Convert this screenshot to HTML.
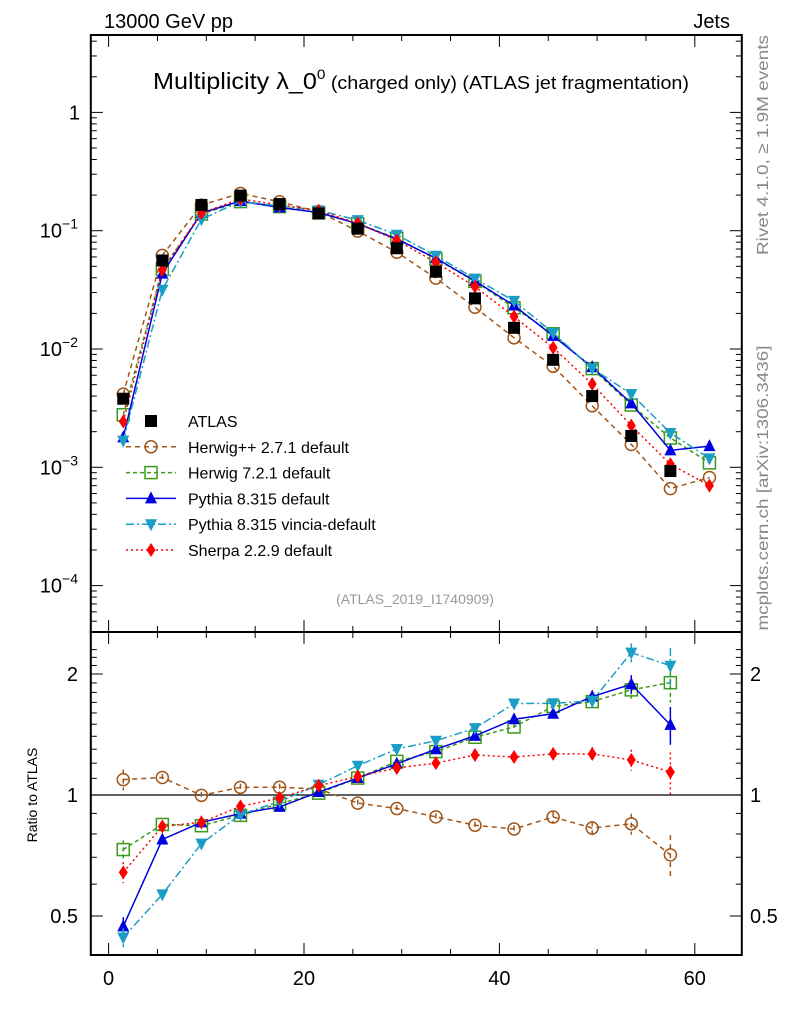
<!DOCTYPE html>
<html><head><meta charset="utf-8"><style>
body{margin:0;background:#fff;}
svg text{font-family:"Liberation Sans",sans-serif;}
</style></head><body>
<svg id="chart" width="786" height="1024" viewBox="0 0 786 1024" xmlns="http://www.w3.org/2000/svg">
<text x="104" y="28" font-size="20">13000 GeV pp</text>
<text x="730" y="28" font-size="20" text-anchor="end">Jets</text>
<text x="421" y="89" font-size="23" text-anchor="middle" textLength="536" lengthAdjust="spacingAndGlyphs">Multiplicity λ_0<tspan font-size="14" dy="-10">0</tspan><tspan font-size="18" dy="10"> (charged only)  (ATLAS jet fragmentation)</tspan></text>
<text transform="translate(768,145) rotate(-90)" font-size="16" fill="#888" text-anchor="middle" textLength="220" lengthAdjust="spacingAndGlyphs">Rivet 4.1.0, ≥ 1.9M events</text>
<text transform="translate(768,488) rotate(-90)" font-size="16" fill="#888" text-anchor="middle" textLength="285" lengthAdjust="spacingAndGlyphs">mcplots.cern.ch [arXiv:1306.3436]</text>
<text x="415" y="604" font-size="14" fill="#999" text-anchor="middle">(ATLAS_2019_I1740909)</text>
<text transform="translate(37,795) rotate(-90)" font-size="14" text-anchor="middle">Ratio to ATLAS</text>
<g id="g"></g>
</svg>
<script>
const xs=[1.5,5.5,9.5,13.5,17.5,21.5,25.5,29.5,33.5,37.5,41.5,45.5,49.5,53.5,57.5,61.5];
const atlas=[0.0038,0.056,0.165,0.198,0.168,0.140,0.104,0.071,0.045,0.0268,0.0151,0.0081,0.0040,0.00184,0.00093];
const herwigpp=[0.00415,0.0619,0.1647,0.2069,0.1756,0.1449,0.0993,0.0657,0.0397,0.02254,0.01243,0.00714,0.00331,0.00156,0.00066,0.00082];
const herwig7=[0.00278,0.0473,0.1384,0.1762,0.1599,0.1415,0.1146,0.0861,0.0577,0.0373,0.0223,0.01345,0.00683,0.00336,0.00177,0.00109];
const pythia=[0.00179,0.0434,0.1411,0.178,0.1569,0.1424,0.1146,0.0849,0.0585,0.0376,0.0233,0.0129,0.00703,0.00347,0.00139,0.00151];
const vincia=[0.00168,0.0317,0.1249,0.177,0.162,0.1485,0.123,0.0924,0.0614,0.0393,0.0255,0.0137,0.00686,0.00416,0.00195,0.00119];
const sherpa=[0.00244,0.0468,0.1411,0.1855,0.1651,0.1477,0.1156,0.0829,0.054,0.0337,0.01877,0.01025,0.00506,0.00225,0.00106,0.00070];
const relErr=[0.06,0.02,0.02,0.02,0.02,0.02,0.02,0.02,0.02,0.02,0.02,0.03,0.04,0.06,0.12,0.1];
const xTicks=[0,20,40,60];
const ratioTicks=[0.5,1,2];

const NS="http://www.w3.org/2000/svg";
const g=document.getElementById('g');
const L=90.8,R=741.8,T1=35,B1=632,T2=632,B2=955;
const X=v=>108.6+(v)*9.77;
const Y=v=>112.4-Math.log10(v)*118.3;
const YR=r=>795-Math.log2(r)*121;
function el(t,a,p){const e=document.createElementNS(NS,t);for(const k in a)e.setAttribute(k,a[k]);(p||g).appendChild(e);return e;}
let f1=el('rect',{x:L,y:T1,width:R-L,height:B1-T1,fill:'none',stroke:'#000','stroke-width':2});


let f2=el('rect',{x:L,y:T2,width:R-L,height:B2-T2,fill:'none',stroke:'#000','stroke-width':2});


for(let v=0;v<=64;v+=5){const x=X(v);const len=v%20==0?12:6;
 for(const [yb,yt] of [[B1,T1],[B2,T2]]){el('line',{x1:x,x2:x,y1:yb,y2:yb-len,stroke:'#000'});el('line',{x1:x,x2:x,y1:yt,y2:yt+len,stroke:'#000'});}}
xTicks.forEach(v=>{const t=el('text',{x:X(v),y:985,'font-size':20,'text-anchor':'middle'});t.textContent=v;

});
for(let e=-5;e<=0;e++){for(let m=1;m<10;m++){const v=m*Math.pow(10,e);const y=Y(v);if(y<T1||y>B1)continue;const len=m==1?12:6;
 el('line',{x1:L,x2:L+len,y1:y,y2:y,stroke:'#000'});el('line',{x1:R,x2:R-len,y1:y,y2:y,stroke:'#000'});}}
for(let e=-4;e<=0;e++){const t=el('text',{x:e==0?80:78,y:Y(Math.pow(10,e))+7,'font-size':20,'text-anchor':'end'});
 if(e==0)t.textContent='1';else{t.textContent='10';const s=el('tspan',{'font-size':14,dy:-9},t);s.textContent=String(e).replace('-','−');}
 
 }
for(let r=0.4;r<=2.4;r+=0.1){const y=YR(r);if(y<T2||y>B2)continue;const maj=[0.5,1,2].some(q=>Math.abs(q-r)<1e-6);const len=maj?12:6;
 el('line',{x1:L,x2:L+len,y1:y,y2:y,stroke:'#000'});el('line',{x1:R,x2:R-len,y1:y,y2:y,stroke:'#000'});}
ratioTicks.forEach(r=>{for(const [x,a] of [[78,'end'],[750,'start']]){const t=el('text',{x:x,y:YR(r)+7,'font-size':20,'text-anchor':a});t.textContent=r;

}});
el('line',{x1:L,x2:R,y1:YR(1),y2:YR(1),stroke:'#000','stroke-width':1.2});
function marker(type,x,y,c,p){
 if(type=='sq')return el('rect',{x:x-6,y:y-6,width:12,height:12,fill:'#000'},p);
 if(type=='circ')return el('circle',{cx:x,cy:y,r:6,fill:'none',stroke:c,'stroke-width':1.5},p);
 if(type=='osq')return el('rect',{x:x-6,y:y-6,width:12,height:12,fill:'none',stroke:c,'stroke-width':1.5},p);
 if(type=='tri')return el('polygon',{points:`${x},${y-7} ${x-6},${y+5} ${x+6},${y+5}`,fill:c},p);
 if(type=='dtri')return el('polygon',{points:`${x},${y+7} ${x-6},${y-5} ${x+6},${y-5}`,fill:c},p);
 if(type=='dia')return el('polygon',{points:`${x},${y-7} ${x-4.5},${y} ${x},${y+7} ${x+4.5},${y}`,fill:c},p);
}
const series=[
 {n:'herwigpp',d:herwigpp,c:'#a0561a',m:'circ',dash:'5,4',lab:'Herwig++ 2.7.1 default'},
 {n:'herwig7',d:herwig7,c:'#3a9a1a',m:'osq',dash:'4,3',lab:'Herwig 7.2.1 default'},
 {n:'pythia',d:pythia,c:'#0000e0',m:'tri',dash:'',lab:'Pythia 8.315 default'},
 {n:'vincia',d:vincia,c:'#1a9ec8',m:'dtri',dash:'8,3,2,3',lab:'Pythia 8.315 vincia-default'},
 {n:'sherpa',d:sherpa,c:'#ff0000',m:'dia',dash:'2,3',lab:'Sherpa 2.2.9 default'}];
series.forEach(s=>{
 const grp=el('g',{});
 
 
 const pts=s.d.map((v,i)=>X(xs[i])+','+Y(v)).join(' ');
 el('polyline',{points:pts,fill:'none',stroke:s.c,'stroke-width':1.5,'stroke-dasharray':s.dash},grp);
 s.d.forEach((v,i)=>{const m=marker(s.m,X(xs[i]),Y(v),s.c,grp);
  
  });
 const rg=el('g',{});
 
 
 const rr=atlas.map((a,i)=>s.d[i]/a);
 el('polyline',{points:rr.map((r,i)=>X(xs[i])+','+YR(r)).join(' '),fill:'none',stroke:s.c,'stroke-width':1.5,'stroke-dasharray':s.dash},rg);
 rr.forEach((r,i)=>{const x=X(xs[i]);const e=relErr[i]*(s.n=='herwigpp'||s.n=='sherpa'?1:0.9);
  el('line',{x1:x,x2:x,y1:YR(r*(1+e)),y2:YR(Math.max(r*(1-e),0.01)),stroke:s.c,'stroke-width':1.5,'stroke-dasharray':s.dash},rg);
  const m=marker(s.m,x,YR(r),s.c,rg);
  
  });
});
const ag=el('g',{});


atlas.forEach((v,i)=>{const m=marker('sq',X(xs[i]),Y(v),'#000',ag);
 
 });
const lg=el('g',{});


const rows=[{m:'sq',c:'#000',dash:null,lab:'ATLAS'}].concat(series);
rows.forEach((s,i)=>{const y=421+i*25.8;
 if(s.dash!==null)el('line',{x1:126,x2:176,y1:y,y2:y,stroke:s.c,'stroke-width':1.5,'stroke-dasharray':s.dash},lg);
 marker(s.m,151,y,s.c,lg);
 const t=el('text',{x:188,y:y+6,'font-size':16},lg);t.textContent=s.lab;
 
 });
</script>
</body></html>
